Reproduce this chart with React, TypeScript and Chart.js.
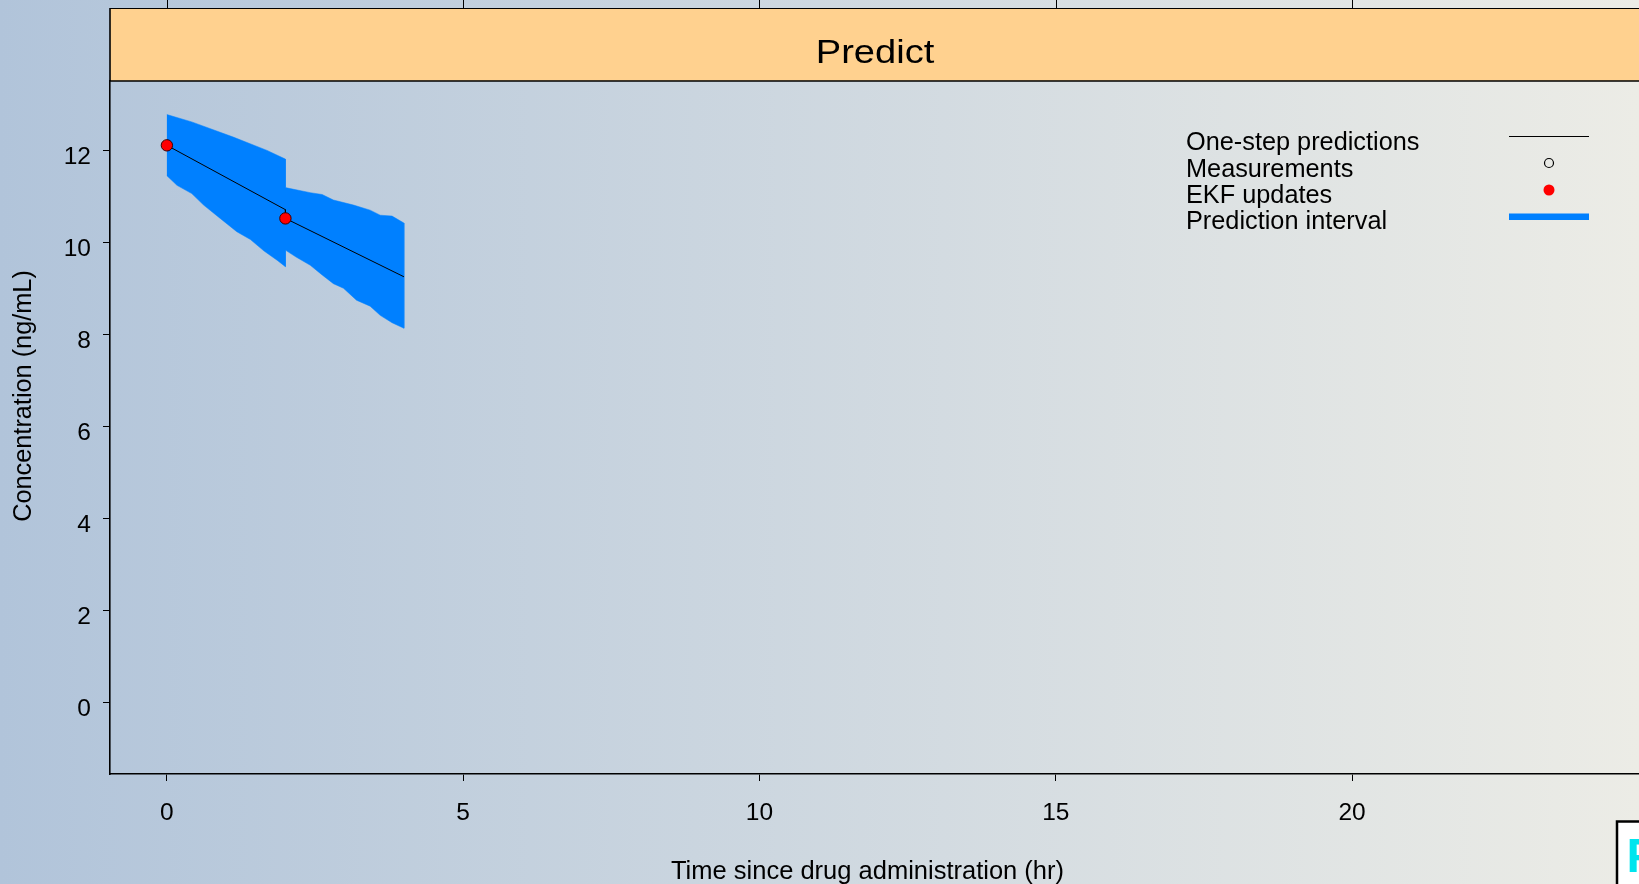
import React, { useEffect, useRef } from "react";
import { Chart, registerables } from "chart.js";

Chart.register(...registerables);

// ---------- data ----------
const panelTitle = "Predict";
const xAxisTitle = "Time since drug administration (hr)";
const yAxisTitle = "Concentration (ng/mL)";
const xTicks = [0, 5, 10, 15, 20];
const yTicks = [0, 2, 4, 6, 8, 10, 12];
const xRange = [-0.96, 24.96];
const yRange = [-1.56, 13.52];

// prediction interval, first segment (0-2 hr)
const upperTime1 = [0, 0.42, 1.12, 1.69, 2.0];
const upperConc1 = [12.79, 12.63, 12.3, 12.01, 11.82];
const lowerTime1 = [0, 0.17, 0.42, 0.62, 0.9, 1.18, 1.41, 1.64, 1.86, 2.0];
const lowerConc1 = [11.46, 11.25, 11.07, 10.82, 10.53, 10.24, 10.07, 9.82, 9.62, 9.48];
// prediction interval, second segment (2-4 hr)
const upperTime2 = [2.0, 2.42, 2.62, 2.81, 3.15, 3.43, 3.6, 3.8, 4.0];
const upperConc2 = [11.2, 11.09, 11.05, 10.93, 10.82, 10.71, 10.6, 10.58, 10.43];
const lowerTime2 = [2.0, 2.18, 2.42, 2.62, 2.81, 2.98, 3.2, 3.43, 3.6, 3.8, 4.0];
const lowerConc2 = [9.84, 9.69, 9.51, 9.3, 9.11, 9.01, 8.75, 8.62, 8.42, 8.26, 8.14];

// one-step predictions
const predTime = [0, 2, 2, 4];
const predConc = [12.12, 10.72, 10.53, 9.26];
// EKF updates
const ekfTime = [0, 2];
const ekfConc = [12.12, 10.53];

const legendLabels = ["One-step predictions", "Measurements", "EKF updates", "Prediction interval"];

// ---------- styles ----------
const FONT = "'Liberation Sans', Arial, Helvetica, sans-serif";
const BAND = "#0080FF";
const RED = "#FF0000";
const STRIP = "#FFD18F";

const decor = {
  id: "decor",
  beforeDraw(chart: any) {
    const ctx = chart.ctx as CanvasRenderingContext2D;
    const { left, right, top } = chart.chartArea;
    const xs = chart.scales.x;
    ctx.save();
    // strip
    ctx.fillStyle = STRIP;
    ctx.fillRect(left, 8, right - left, top - 8);
    ctx.strokeStyle = "#000";
    ctx.lineWidth = 1;
    ctx.beginPath();
    ctx.moveTo(left, 8.5);
    ctx.lineTo(right, 8.5);
    ctx.stroke();
    ctx.lineWidth = 1.6;
    ctx.beginPath();
    ctx.moveTo(left, top);
    ctx.lineTo(right, top);
    ctx.moveTo(left, 8);
    ctx.lineTo(left, top);
    ctx.stroke();
    // top ticks
    ctx.lineWidth = 1;
    ctx.beginPath();
    xTicks.forEach((v) => {
      const px = Math.round(xs.getPixelForValue(v)) + 0.5;
      ctx.moveTo(px, 0);
      ctx.lineTo(px, 8);
    });
    ctx.stroke();
    // strip text (slightly wide, as in the original)
    ctx.fillStyle = "#000";
    ctx.font = `34px ${FONT}`;
    ctx.textAlign = "center";
    ctx.textBaseline = "alphabetic";
    ctx.save();
    ctx.translate(875, 63.2);
    ctx.scale(1.12, 1);
    ctx.fillText(panelTitle, 0, 0);
    ctx.restore();
    ctx.restore();
  },
  afterDraw(chart: any) {
    const ctx = chart.ctx as CanvasRenderingContext2D;
    ctx.save();
    ctx.fillStyle = "#000";
    // axis titles
    ctx.font = `25.5px ${FONT}`;
    ctx.textAlign = "center";
    ctx.textBaseline = "alphabetic";
    ctx.fillText(xAxisTitle, 867.5, 879);
    ctx.save();
    ctx.translate(24, 396);
    ctx.rotate(-Math.PI / 2);
    ctx.textBaseline = "middle";
    ctx.font = `25.3px ${FONT}`;
    ctx.fillText(yAxisTitle, 0, 0);
    ctx.restore();

    // legend
    ctx.font = `25.3px ${FONT}`;
    ctx.textAlign = "left";
    const baselines = [150.2, 176.5, 202.8, 229.1];
    legendLabels.forEach((lab, i) => ctx.fillText(lab, 1186, baselines[i]));
    ctx.strokeStyle = "#000";
    ctx.lineWidth = 1;
    ctx.beginPath();
    ctx.moveTo(1509, 136.5);
    ctx.lineTo(1589, 136.5);
    ctx.stroke();
    ctx.lineWidth = 1.2;
    ctx.beginPath();
    ctx.arc(1549, 163, 4.5, 0, Math.PI * 2);
    ctx.stroke();
    ctx.fillStyle = RED;
    ctx.beginPath();
    ctx.arc(1549, 190, 5.5, 0, Math.PI * 2);
    ctx.fill();
    ctx.strokeStyle = BAND;
    ctx.lineWidth = 6.5;
    ctx.beginPath();
    ctx.moveTo(1509, 216.7);
    ctx.lineTo(1589, 216.7);
    ctx.stroke();

    // cut-off box in the corner
    ctx.fillStyle = "#fff";
    ctx.fillRect(1617, 821.5, 100, 100);
    ctx.strokeStyle = "#000";
    ctx.lineWidth = 2.5;
    ctx.strokeRect(1617, 821.5, 100, 100);
    ctx.fillStyle = "#00E5EE";
    ctx.font = `bold 48px ${FONT}`;
    ctx.textBaseline = "alphabetic";
    ctx.fillText("P", 1626.4, 871.7);
    ctx.restore();
  },
};

export default function App() {
  const ref = useRef<HTMLCanvasElement>(null);
  useEffect(() => {
    document.body.style.margin = "0";
    document.body.style.overflow = "hidden";
    const canvas = ref.current!;
    const toPts = (t: number[], v: number[]) => t.map((x, i) => ({ x, y: v[i] }));
    const bandPolygon = [
      ...toPts(upperTime1, upperConc1),
      ...toPts(upperTime2, upperConc2),
      ...toPts(lowerTime2, lowerConc2).reverse(),
      ...toPts(lowerTime1, lowerConc1).reverse(),
    ];
    const tickFont = { family: FONT, size: 24.5 };
    const chart = new Chart(canvas, {
      type: "scatter",
      data: {
        datasets: [
          {
            label: legendLabels[3],
            data: bandPolygon,
            showLine: true,
            fill: "shape",
            backgroundColor: BAND,
            borderColor: BAND,
            borderWidth: 0.5,
            pointRadius: 0,
            tension: 0,
            order: 3,
          },
          {
            label: legendLabels[0],
            data: toPts(predTime, predConc),
            showLine: true,
            fill: false,
            borderColor: "#000",
            borderWidth: 1,
            pointRadius: 0,
            order: 2,
          },
          {
            label: legendLabels[2],
            data: toPts(ekfTime, ekfConc),
            showLine: false,
            pointRadius: 5.7,
            backgroundColor: RED,
            borderColor: "#3a0000",
            borderWidth: 1,
            order: 1,
          },
        ],
      } as any,
      options: {
        responsive: false,
        animation: false,
        devicePixelRatio: 1,
        events: [],
        layout: { padding: { top: 81, right: 14, bottom: 0, left: 0 } },
        plugins: { legend: { display: false }, tooltip: { enabled: false }, title: { display: false } },
        scales: {
          x: {
            type: "linear",
            position: "bottom",
            min: xRange[0],
            max: xRange[1],
            afterBuildTicks: (s: any) => {
              s.ticks = xTicks.map((v) => ({ value: v }));
            },
            afterFit: (s: any) => {
              s.height = 110;
            },
            grid: { display: true, drawOnChartArea: false, drawTicks: true, tickLength: 7, tickColor: "#000", tickWidth: 1 },
            border: { display: true, color: "#000", width: 1.6 },
            ticks: { color: "#000", font: tickFont, padding: 18, maxRotation: 0, autoSkip: false },
          },
          y: {
            type: "linear",
            position: "left",
            min: yRange[0],
            max: yRange[1],
            afterBuildTicks: (s: any) => {
              s.ticks = yTicks.map((v) => ({ value: v }));
            },
            afterFit: (s: any) => {
              s.width = 110;
            },
            grid: { display: true, drawOnChartArea: false, drawTicks: true, tickLength: 7, tickColor: "#000", tickWidth: 1 },
            border: { display: true, color: "#000", width: 1.6 },
            ticks: { color: "#000", font: tickFont, padding: 12, labelOffset: 6.5, autoSkip: false },
          },
        },
      } as any,
      plugins: [decor],
    });
    return () => chart.destroy();
  }, []);

  return (
    <div
      style={{
        position: "fixed",
        left: 0,
        top: 0,
        width: 1639,
        height: 884,
        overflow: "hidden",
        background: "linear-gradient(to right, #B1C4DA, #ECECE6)",
      }}
    >
      <canvas ref={ref} width={1660} height={884} style={{ width: 1660, height: 884, display: "block" }} />
    </div>
  );
}
